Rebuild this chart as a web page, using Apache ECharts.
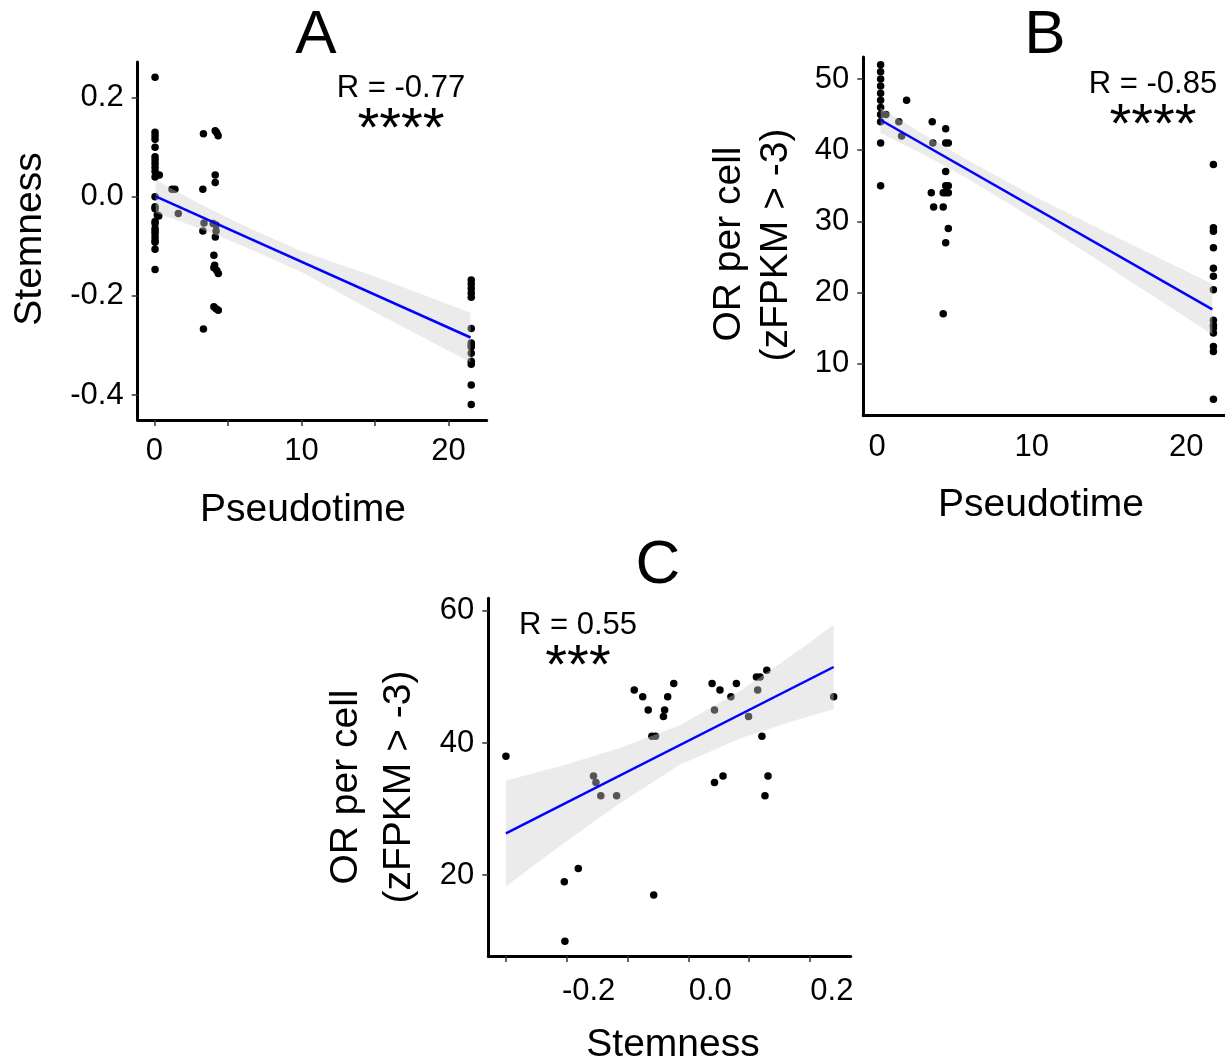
<!DOCTYPE html>
<html><head><meta charset="utf-8">
<script src="https://cdn.jsdelivr.net/npm/echarts@6/dist/echarts.min.js"></script>
<style>html,body{margin:0;padding:0;background:#fff}#c{width:1225px;height:1063px}</style>
</head><body><div id="c"></div>
<script>
// ---------- Panel A: Pseudotime vs Stemness ----------
const aPseudotime = [
  0.05,0.05,0.05,0.05,0.05,0.05,0.05,0.05,0.05,0.05,0.05,0.05,0.05,0.05,0.2,0.3,0.05,0.05,0.05,0.05,0.05,0.05,0.05,0.05,0.05,0.05,
  0.34,1.2,1.4,1.63,
  3.34,3.3,3.38,3.3,3.34,
  4.14,4.25,4.34,4.14,4.14,4.0,4.2,4.2,4.15,4.05,4.1,4.05,4.25,4.35,4.05,4.2,4.35,
  21.55,21.55,21.55,21.55,21.55,21.55,21.55,21.55,21.55,21.55,21.55,21.55,21.55,21.55
];
const aStemness = [
  0.241,0.130,0.123,0.116,0.100,0.081,0.074,0.067,0.059,0.051,0.040,0.000,-0.020,-0.024,-0.037,-0.039,-0.050,-0.054,-0.064,-0.069,-0.074,-0.081,-0.088,-0.092,-0.106,-0.147,
  0.044,0.015,0.015,-0.034,
  0.127,0.015,-0.053,-0.069,-0.267,
  0.133,0.129,0.123,0.044,0.029,-0.054,-0.057,-0.069,-0.081,-0.118,-0.138,-0.143,-0.149,-0.155,-0.222,-0.226,-0.229,
  -0.168,-0.176,-0.185,-0.194,-0.203,-0.266,-0.295,-0.300,-0.303,-0.316,-0.332,-0.338,-0.380,-0.419
];
const aFitX = [0.09, 21.5];
const aFitY = [0.001, -0.284];
const aBandX  = [0.09, 3, 6, 10, 15, 21.5];
const aBandLo = [-0.032, -0.063, -0.099, -0.152, -0.233, -0.334];
const aBandHi = [0.034, -0.013, -0.057, -0.110, -0.161, -0.234];
const aXTicks = [0, 5, 10, 15, 20];
const aXLabels = [0, 10, 20];
const aYTicks = [-0.4, -0.2, 0, 0.2];

// ---------- Panel B: Pseudotime vs OR per cell ----------
const bPseudotime = [
  0.22,0.22,0.22,0.22,0.22,0.22,0.22,0.22,0.22,0.22,0.22,
  0.56,1.9,1.4,1.58,
  3.56,3.6,3.5,3.65,
  4.43,4.43,4.6,4.43,4.43,4.6,4.27,4.6,4.43,4.27,4.6,4.43,4.27,
  21.75,21.75,21.75,21.75,21.75,21.75,21.75,21.75,21.75,21.75,21.75,21.75,21.75,21.75
];
const bOR = [
  52,51,50,49,48,47,46,45,44,41,35,
  45,47,44,42,
  44,41,34,32,
  43,41,41,37,35,35,34,34,34,32,29,27,17,
  38,29.1,28.6,26.3,23.4,22.3,20.4,16.1,15.4,15.0,14.3,12.4,11.7,5.0
];
const bFitX = [0.22, 21.68];
const bFitY = [44.24, 17.64];
const bBandX  = [0.22, 3, 6, 10, 15, 21.68];
const bBandLo = [42.4, 39.4, 35.8, 30.5, 23.5, 14.1];
const bBandHi = [46.0, 42.2, 38.4, 33.7, 28.3, 21.2];
const bXLabels = [0, 10, 20];
const bYTicks = [10, 20, 30, 40, 50];

// ---------- Panel C: Stemness vs OR per cell ----------
const cStemness = [
  -0.336,-0.125,-0.111,-0.060,-0.070,-0.102,-0.075,-0.077,-0.096,-0.090,
  -0.192,-0.188,-0.180,-0.154,-0.217,-0.240,-0.093,-0.239,
  0.003,0.016,0.043,0.034,0.007,0.076,0.082,0.093,0.078,0.063,0.085,0.203,
  0.007,0.021,0.095,0.090
];
const cOR = [
  38,48,47,49,47,45,45,44,41,41,
  35,34,32,32,21,19,17,10,
  49,48,49,47,45,50,50,51,48,44,41,47,
  34,35,35,32
];
const cFitX = [-0.336, 0.203];
const cFitY = [26.3, 51.5];
const cBandX  = [-0.336, -0.25, -0.15, -0.05, 0.05, 0.15, 0.203];
const cBandLo = [18.3, 24.2, 30.8, 36.7, 40.7, 43.7, 45.1];
const cBandHi = [34.3, 36.4, 39.2, 42.7, 47.9, 54.3, 57.9];
const cXTicks = [-0.336, -0.236, -0.136, -0.036, 0.064, 0.164];
const cXLabels = [-0.2, 0, 0.2];
const cYTicks = [20, 40, 60];

// ---------- build ----------
const FONT = 'Liberation Sans, Arial, sans-serif';
const TICKFS = 31;
const zip = (a, b) => a.map((v, i) => [v, b[i]]);
const zip3 = (a, b, c) => a.map((v, i) => [v, b[i], c[i]]);

function axisBase(extra) {
  return Object.assign({
    type: 'value',
    axisLine: { show: true, onZero: false, lineStyle: { color: '#000', width: 3 } },
    splitLine: { show: false },
    axisTick: { show: true, length: 6, lineStyle: { color: '#333', width: 1.5 } },
    axisLabel: { color: '#000', fontSize: TICKFS, fontFamily: FONT }
  }, extra);
}
function scatter(i, data) {
  return { type: 'scatter', xAxisIndex: i, yAxisIndex: i, data: data, symbolSize: 7.5,
    itemStyle: { color: '#000', opacity: 1 }, z: 2, silent: true };
}
function band(i, data) {
  return { type: 'custom', xAxisIndex: i, yAxisIndex: i, z: 3, silent: true, clip: true,
    data: data, encode: { x: 0, y: [1, 2] },
    renderItem: function (params, api) {
      if (params.dataIndex !== 0) return null;
      const up = data.map(d => api.coord([d[0], d[2]]));
      const lo = data.slice().reverse().map(d => api.coord([d[0], d[1]]));
      return { type: 'polygon', shape: { points: up.concat(lo) },
        style: { fill: 'rgba(207,207,207,0.41)' } };
    } };
}
function fit(i, data) {
  return { type: 'line', xAxisIndex: i, yAxisIndex: i, data: data, symbol: 'none', z: 4,
    lineStyle: { color: '#0000ff', width: 2.5 }, silent: true };
}
function txt(x, y, s, size, rot) {
  return { type: 'text', x: x, y: y, rotation: rot || 0,
    style: { text: s, fontSize: size, fontFamily: FONT, fill: '#000', align: 'center', verticalAlign: 'middle' } };
}
const HALF = Math.PI / 2;

const option = {
  backgroundColor: '#fff',
  animation: false,
  grid: [
    { left: 137.7, top: 62, width: 349, height: 358 },
    { left: 863.3, top: 57, width: 362, height: 358.7 },
    { left: 488.3, top: 598.3, width: 362.4, height: 357.7 }
  ],
  xAxis: [
    axisBase({ gridIndex: 0, min: -1.13, max: 22.6,
      axisTick: { show: true, customValues: aXTicks, length: 6, lineStyle: { color: '#333', width: 1.5 } },
      axisLabel: { customValues: aXLabels, color: '#000', fontSize: TICKFS, fontFamily: FONT, margin: 16 } }),
    axisBase({ gridIndex: 1, min: -0.9, max: 22.5,
      axisTick: { show: false },
      axisLabel: { customValues: bXLabels, color: '#000', fontSize: TICKFS, fontFamily: FONT, margin: 16 } }),
    axisBase({ gridIndex: 2, min: -0.365, max: 0.231,
      axisTick: { show: true, customValues: cXTicks, length: 6, lineStyle: { color: '#333', width: 1.5 } },
      axisLabel: { customValues: cXLabels, color: '#000', fontSize: TICKFS, fontFamily: FONT, margin: 20,
        formatter: v => v.toFixed(1) } })
  ],
  yAxis: [
    axisBase({ gridIndex: 0, min: -0.4505, max: 0.272,
      axisTick: { show: true, customValues: aYTicks, length: 6, lineStyle: { color: '#333', width: 1.5 } },
      axisLabel: { customValues: aYTicks, color: '#000', fontSize: TICKFS, fontFamily: FONT, margin: 14,
        formatter: v => v.toFixed(1) } }),
    axisBase({ gridIndex: 1, min: 2.69, max: 53.09,
      axisTick: { show: true, customValues: bYTicks, length: 6, lineStyle: { color: '#333', width: 1.5 } },
      axisLabel: { customValues: bYTicks, color: '#000', fontSize: TICKFS, fontFamily: FONT, margin: 14 } }),
    axisBase({ gridIndex: 2, min: 7.75, max: 61.9,
      axisTick: { show: true, customValues: cYTicks, length: 6, lineStyle: { color: '#333', width: 1.5 } },
      axisLabel: { customValues: cYTicks, color: '#000', fontSize: TICKFS, fontFamily: FONT, margin: 14 } })
  ],
  series: [
    scatter(0, zip(aPseudotime, aStemness)), band(0, zip3(aBandX, aBandLo, aBandHi)), fit(0, zip(aFitX, aFitY)),
    scatter(1, zip(bPseudotime, bOR)), band(1, zip3(bBandX, bBandLo, bBandHi)), fit(1, zip(bFitX, bFitY)),
    scatter(2, zip(cStemness, cOR)), band(2, zip3(cBandX, cBandLo, cBandHi)), fit(2, zip(cFitX, cFitY))
  ],
  graphic: [
    txt(316, 36, 'A', 62), txt(1045, 36, 'B', 62), txt(658, 566, 'C', 62),
    txt(401, 88, 'R = -0.77', 31), txt(401, 131, '****', 56),
    txt(1153, 84, 'R = -0.85', 31), txt(1153, 127, '****', 56),
    txt(578, 625, 'R = 0.55', 31), txt(578, 668, '***', 56),
    txt(30, 239, 'Stemness', 39, HALF),
    txt(303, 510, 'Pseudotime', 39),
    txt(729, 244, 'OR per cell', 39, HALF), txt(776, 245, '(zFPKM > -3)', 39, HALF),
    txt(1041, 505, 'Pseudotime', 39),
    txt(346, 787, 'OR per cell', 39, HALF), txt(399, 787, '(zFPKM > -3)', 39, HALF),
    txt(673, 1045, 'Stemness', 39)
  ]
};
echarts.init(document.getElementById('c'), null, { renderer: 'canvas' }).setOption(option);
</script>
</body></html>
